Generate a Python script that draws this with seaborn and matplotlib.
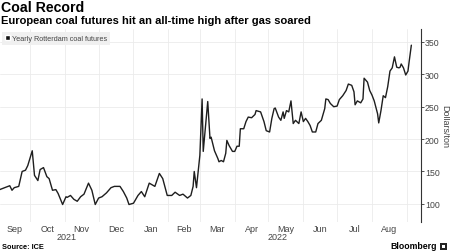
import matplotlib
matplotlib.use("Agg")
import matplotlib.pyplot as plt
import matplotlib.transforms as mtransforms
from matplotlib.patches import Patch, Rectangle
import pandas as pd
import seaborn as sns

# ---------------- data ----------------
dates = [
    # Sep 2021
    "2021-09-04", "2021-09-13", "2021-09-15", "2021-09-17", "2021-09-21", "2021-09-24", "2021-09-27", "2021-09-29",
    # Oct 2021
    "2021-10-03", "2021-10-05", "2021-10-08", "2021-10-10", "2021-10-13", "2021-10-16", "2021-10-18", "2021-10-21",
    "2021-10-24", "2021-10-26", "2021-10-30",
    # Nov 2021
    "2021-11-02", "2021-11-03", "2021-11-06", "2021-11-09", "2021-11-12", "2021-11-15", "2021-11-18", "2021-11-22",
    "2021-11-25", "2021-11-28",
    # Dec 2021
    "2021-12-01", "2021-12-04", "2021-12-08", "2021-12-12", "2021-12-15", "2021-12-20", "2021-12-23", "2021-12-26",
    "2021-12-28",
    # Jan 2022
    "2022-01-01", "2022-01-05", "2022-01-08", "2022-01-11", "2022-01-15", "2022-01-20", "2022-01-24", "2022-01-27",
    "2022-01-31",
    # Feb 2022
    "2022-02-04", "2022-02-07", "2022-02-11", "2022-02-14", "2022-02-18", "2022-02-21", "2022-02-23", "2022-02-24",
    "2022-02-26",
    # Mar 2022
    "2022-03-01", "2022-03-03", "2022-03-04", "2022-03-08", "2022-03-10", "2022-03-11", "2022-03-14", "2022-03-17",
    "2022-03-18", "2022-03-20", "2022-03-22", "2022-03-24", "2022-03-25", "2022-03-27", "2022-03-30",
    # Apr 2022
    "2022-04-01", "2022-04-03", "2022-04-05", "2022-04-06", "2022-04-09", "2022-04-11", "2022-04-13", "2022-04-16",
    "2022-04-19", "2022-04-20", "2022-04-24", "2022-04-27", "2022-04-29",
    # May 2022
    "2022-05-02", "2022-05-04", "2022-05-06", "2022-05-07", "2022-05-10", "2022-05-12", "2022-05-14", "2022-05-15",
    "2022-05-17", "2022-05-19", "2022-05-21", "2022-05-23", "2022-05-25", "2022-05-28", "2022-05-30",
    # Jun 2022
    "2022-06-01", "2022-06-03", "2022-06-05", "2022-06-07", "2022-06-09", "2022-06-12", "2022-06-14", "2022-06-17",
    "2022-06-20", "2022-06-21", "2022-06-23", "2022-06-25", "2022-06-28",
    # Jul 2022
    "2022-07-01", "2022-07-03", "2022-07-06", "2022-07-09", "2022-07-11", "2022-07-14", "2022-07-16", "2022-07-17",
    "2022-07-19", "2022-07-22", "2022-07-24", "2022-07-25", "2022-07-28", "2022-07-30",
    # Aug 2022
    "2022-08-01", "2022-08-03", "2022-08-06", "2022-08-07", "2022-08-09", "2022-08-11", "2022-08-13", "2022-08-15",
    "2022-08-17", "2022-08-19", "2022-08-21", "2022-08-23", "2022-08-25", "2022-08-26", "2022-08-27", "2022-08-29",
    "2022-08-31",
    # Sep 2022
    "2022-09-02", "2022-09-03", "2022-09-05",
]
prices = [
    122, 128, 121, 125, 127, 150, 152, 159,
    182, 144, 136, 153, 156, 142, 139, 121, 122, 116, 99,
    111, 110, 113, 107, 104, 111, 115, 132, 121, 99,
    109, 111, 117, 125, 127, 127, 119, 109, 99,
    101, 113, 119, 111, 132, 127, 147, 139, 113,
    113, 118, 113, 115, 109, 113, 127, 150, 125,
    175, 262, 181, 258, 201, 203, 182, 170, 165, 167, 165, 178, 198, 190, 181,
    181, 189, 189, 216, 216, 227, 234, 233, 238, 244, 242, 227, 213,
    211, 232, 247, 248, 234, 229, 242, 232, 244, 242, 259, 224, 229, 224, 242,
    227, 232, 227, 221, 211, 211, 224, 229, 247, 262, 261, 255, 250,
    251, 261, 267, 275, 285, 283, 273, 253, 259, 256, 262, 294, 288, 275,
    268, 259, 239, 225, 244, 267, 264, 281, 305, 310, 327, 311, 310, 311, 316, 310, 299,
    305, 319, 345,
]
series_label = "Yearly Rotterdam coal futures"
y_ticks = [100, 150, 200, 250, 300, 350]
title = "Coal Record"
subtitle = "European coal futures hit an all-time high after gas soared"
y_label = "Dollars/ton"
source = "Source: ICE"
brand = "Bloomberg"

# ---------------- style ----------------
sns.set_theme(style="white")
plt.rcParams["font.family"] = ["Liberation Sans", "DejaVu Sans"]

df = pd.DataFrame({"date": pd.to_datetime(dates), "price": prices})

W, H = 450, 253
fig = plt.figure(figsize=(W / 100, H / 100), dpi=100)
ax = fig.add_axes([0, 1 - 223 / H, 421 / W, 193 / H])

sns.lineplot(data=df, x="date", y="price", ax=ax, color="#1e1e1e",
             linewidth=1.0, legend=False)

x0 = pd.Timestamp("2021-09-04 08:00")
x1 = pd.Timestamp("2022-09-13 14:00")
ax.set_xlim(x0, x1)
ax.set_ylim(72, 370)
ax.set_xlabel("")
ax.set_ylabel("")

# y axis on the right
ax.yaxis.tick_right()
ax.set_yticks(y_ticks)
ax.tick_params(axis="y", which="major", length=2, width=0.6, color="#333333",
               labelsize=6.3, labelcolor="#444444", pad=0.8, right=True, left=False)
for s in ["left", "top", "bottom"]:
    ax.spines[s].set_visible(False)
ax.spines["right"].set_color("#333333")
ax.spines["right"].set_linewidth(0.8)

# x axis: gridlines at month starts, labels centred in each month
month_starts = pd.date_range("2021-09-01", "2022-10-01", freq="MS")
ax.set_xticks([m for m in month_starts if x0 <= m <= x1])
ax.set_xticklabels([])
ax.tick_params(axis="x", which="major", length=0)
centers, labels = [], []
for a, b in zip(month_starts[:-1], month_starts[1:]):
    lo, hi = max(a, x0), min(b, x1)
    if hi - lo > pd.Timedelta(days=15):
        centers.append(lo + (hi - lo) / 2)
        labels.append(a.strftime("%b"))
ax.set_xticks(centers, minor=True)
ax.set_xticklabels(labels, minor=True)
ax.tick_params(axis="x", which="minor", length=0, labelsize=6.5,
               labelcolor="#444444", pad=1.5)
ax.grid(True, which="major", color="#ebebeb", linewidth=0.6)

# year labels
trans = mtransforms.blended_transform_factory(ax.transData, ax.transAxes)
for yr in [2021, 2022]:
    lo = max(pd.Timestamp(f"{yr}-01-01"), x0)
    hi = min(pd.Timestamp(f"{yr + 1}-01-01"), x1)
    ax.text(lo + (hi - lo) / 2, -15 / 193, str(yr), transform=trans,
            ha="center", va="center", fontsize=6.5, color="#444444")

# legend
leg = ax.legend(handles=[Patch(facecolor="#111111", label=series_label)],
                loc="upper left", bbox_to_anchor=(2 / 421, 1 - 3 / 193),
                borderaxespad=0, frameon=True, facecolor="#f0f0f0",
                edgecolor="none", fancybox=False, framealpha=1,
                fontsize=5.2, handlelength=0.75, handleheight=0.75,
                handletextpad=0.25, borderpad=0.4, labelcolor="#444444")

# texts
fig.text(1 / W, 1 - 1.5 / H, title, ha="left", va="top", fontsize=10.2,
         fontweight="bold", color="#000000")
fig.text(1 / W, 1 - 16 / H, subtitle, ha="left", va="top", fontsize=8,
         fontweight="bold", color="#000000")
fig.text(444.5 / W, 1 - 127 / H, y_label, rotation=270, ha="center", va="center",
         fontsize=6.5, color="#444444")
fig.text(2 / W, 1 - 248 / H, source, ha="left", va="center", fontsize=5.3,
         fontweight="bold", color="#000000")
fig.text(437 / W, 1 - 247 / H, brand, ha="right", va="center", fontsize=6.3,
         fontweight="bold", color="#000000")
fig.add_artist(Rectangle((440 / W, 1 - 251 / H), 7 / W, 7 / H,
                         transform=fig.transFigure, facecolor="#222222",
                         edgecolor="none"))
fig.add_artist(Rectangle((442 / W, 1 - 249 / H), 3 / W, 3 / H,
                         transform=fig.transFigure, facecolor="#ffffff",
                         edgecolor="none"))

fig.savefig("out.png", dpi=100)
